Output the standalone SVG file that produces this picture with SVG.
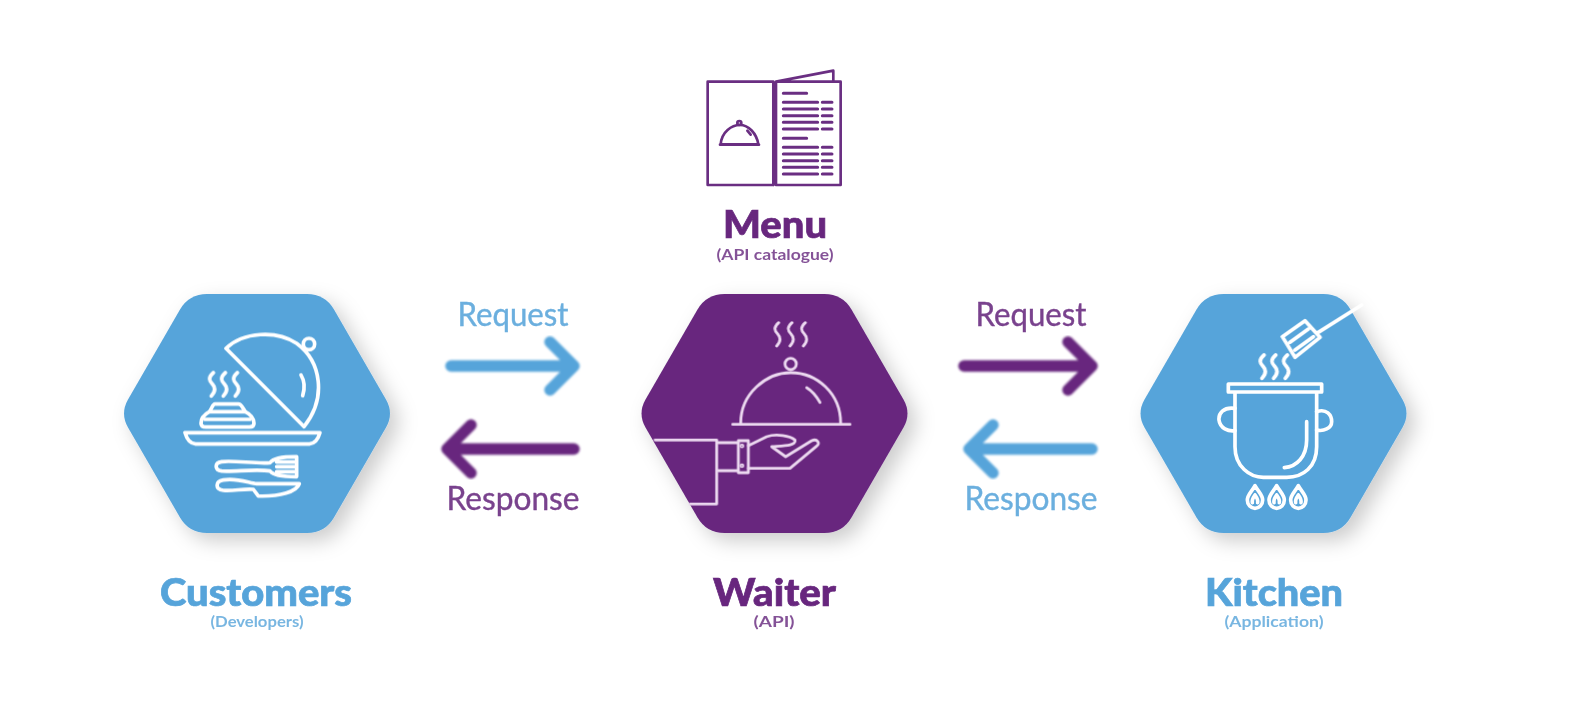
<svg xmlns="http://www.w3.org/2000/svg" width="1576" height="726" viewBox="0 0 1576 726">
<style>
.big{font-family:Lato,"Noto Sans",sans-serif;font-weight:900;font-size:37px;stroke-width:.7px}
.big.b{stroke:#57a4da}.big.p{stroke:#67287e}
.sub{font-family:Lato,"Noto Sans",sans-serif;font-weight:700;font-size:15px;opacity:.8}
.mid{font-family:Lato,"Noto Sans",sans-serif;font-weight:400;font-size:32px;opacity:.88;stroke-width:.4px}
.mid.b{stroke:#57a4da}.mid.p{stroke:#67287e}
.b{fill:#57a4da}.p{fill:#67287e}
.ico{fill:none;stroke-linecap:round;stroke-linejoin:round}
.w{stroke:#fff;stroke-width:11}
.l{stroke:#ecd9f0;stroke-width:8.5}
.m{stroke:#6a2f82;stroke-width:8}
.arr{fill:none;stroke-width:11.5;stroke-linecap:round;stroke-linejoin:round}
</style>
<defs>
<filter id="sh" x="-20%" y="-20%" width="145%" height="145%"><feDropShadow dx="8" dy="8" stdDeviation="10" flood-color="#000" flood-opacity=".2"/></filter>
<filter id="soft" x="-5%" y="-5%" width="110%" height="110%"><feGaussianBlur stdDeviation=".8"/></filter>
<filter id="softer" x="-5%" y="-5%" width="110%" height="110%"><feGaussianBlur stdDeviation=".55"/></filter>
<path id="hex" d="M-50,-119.5H50Q68,-119.5 77,-104L129,-14Q137,0 129,14L77,104Q68,119.5 50,119.5H-50Q-68,119.5 -77,104L-129,14Q-137,0 -129,-14L-77,-104Q-68,-119.5 -50,-119.5Z"/>
<path id="steam" d="M0,0c-16,14 -13,24 -3,34c10,11 10,22 -3,36"/>
</defs>
<rect width="1576" height="726" fill="#fff"/>

<g id="customers">
<use href="#hex" transform="translate(257,413.5)" class="b" filter="url(#sh)"/>
<g transform="translate(100,280) scale(.3333)" class="ico w" filter="url(#soft)">
<path d="M378,205C430,155 530,150 590,190C665,245 680,355 612,440Z"/>
<circle cx="627" cy="192" r="17"/>
<path d="M603,285C615,305 615,325 608,347"/>
<use href="#steam" x="340" y="278"/><use href="#steam" x="376" y="278"/><use href="#steam" x="412" y="278"/>
<path d="M345,372H415C425,372 428,385 436,395C450,402 462,415 462,430C462,438 455,441 448,441H318C308,441 303,438 303,430C303,415 315,402 328,395C336,385 338,372 345,372Z"/>
<path d="M330,395H435M315,418H450"/>
<path d="M255,458H660C655,476 645,491 628,492H287C270,491 260,476 255,458Z"/>
<path d="M365,545C400,540 470,552 510,548C520,535 540,530 590,530V590C540,590 520,585 510,573C470,566 400,576 365,573C343,570 343,548 365,545ZM530,546H590M530,560H590M530,575H590"/>
<path d="M370,600C410,592 450,610 470,611L598,611C590,635 540,650 475,648L460,628C430,625 400,634 370,631C345,627 345,605 370,600Z"/>
</g>
</g>

<g id="waiter">
<use href="#hex" transform="translate(774.5,413.5)" class="p" filter="url(#sh)"/>
<g transform="translate(620,280) scale(.3333)" class="ico l" filter="url(#soft)">
<use href="#steam" x="476" y="128"/><use href="#steam" x="516" y="128"/><use href="#steam" x="556" y="128"/>
<circle cx="512" cy="252" r="17"/>
<path d="M362,430C362,340 440,278 512,278C590,278 662,340 662,430M338,433H690"/>
<path d="M560,323C575,332 590,350 600,367"/>
<path d="M105,480H290V672H210M296,488H355V572H296M355,482H385V578H355"/>
<path d="M385,497L440,470C470,460 510,468 525,480C530,497 490,497 455,500L497,530L575,482C592,475 602,490 590,498L510,565H385"/>
<circle cx="366" cy="498" r="2.5"/><circle cx="366" cy="557" r="2.5"/>
</g>
</g>

<g id="kitchen">
<use href="#hex" transform="translate(1273.5,413.5)" class="b" filter="url(#sh)"/>
<g transform="translate(1120,280) scale(.3333)" class="ico w" filter="url(#soft)">
<path d="M487,170L555,122L600,172L525,232ZM510,187L565,147M525,210L580,170M590,160L725,75"/>
<use href="#steam" x="432" y="225"/><use href="#steam" x="467" y="225"/><use href="#steam" x="502" y="225"/>
<path d="M325,312H605V336H325ZM345,336V500C345,560 390,592 430,592H500C550,592 590,560 590,500V336"/>
<path d="M345,385C310,380 295,400 297,420C300,445 325,455 345,452M590,395C620,385 635,405 635,425C635,445 610,455 590,450"/>
<path d="M560,425V480C560,530 530,560 493,563"/>
<path d="M405,617C395,635 382,645 382,660C382,675 393,685 405,685C417,685 428,675 428,660C428,645 415,635 405,617ZM405,645C398,655 395,660 397,668M405,645C412,655 415,660 413,668"/>
<path d="M470,617C460,635 447,645 447,660C447,675 458,685 470,685C482,685 493,675 493,660C493,645 480,635 470,617ZM470,645C463,655 460,660 462,668M470,645C477,655 480,660 478,668"/>
<path d="M535,617C525,635 512,645 512,660C512,675 523,685 535,685C547,685 558,675 558,660C558,645 545,635 535,617ZM535,645C528,655 525,660 527,668M535,645C542,655 545,660 543,668"/>
</g>
</g>

<g id="menu">
<g transform="translate(690,60) scale(.3333)" class="ico m" filter="url(#soft)">
<path d="M53,65H250V375H53ZM258,65H452V375H258ZM258,65L430,32V65M250,375L255,368L258,375"/>
<path d="M92,253C95,215 125,195 150,195C175,195 200,220 205,253ZM90,254H207"/>
<circle cx="148" cy="189" r="6"/>
<path d="M172,212L182,224"/>
<path d="M280,100H350M280,235H350" stroke-width="9"/>
<path d="M280,127H383M397,127H426M280,147H383M397,147H426M280,167H383M397,167H426M280,187H383M397,187H426M280,207H383M397,207H426M280,262H383M397,262H426M280,282H383M397,282H426M280,302H383M397,302H426M280,322H383M397,322H426M280,342H383M397,342H426" stroke-width="9"/>
</g>
</g>

<g id="connectors" filter="url(#soft)">
<path class="arr" stroke="#57a4da" d="M451,366H574M550,342L574,366L550,390"/>
<path class="arr" stroke="#67287e" d="M574,449H447M471,425L447,449L471,473"/>
<path class="arr" stroke="#67287e" d="M964,366H1092M1068,342L1092,366L1068,390"/>
<path class="arr" stroke="#57a4da" d="M1092,449H969M993,425L969,449L993,473"/>
</g>

<g id="labels" filter="url(#softer)">
<text class="mid b" x="513" y="326" text-anchor="middle" textLength="111" lengthAdjust="spacingAndGlyphs">Request</text>
<text class="mid p" x="513" y="510" text-anchor="middle" textLength="133" lengthAdjust="spacingAndGlyphs">Response</text>
<text class="mid p" x="1031" y="326" text-anchor="middle" textLength="111" lengthAdjust="spacingAndGlyphs">Request</text>
<text class="mid b" x="1031" y="510" text-anchor="middle" textLength="133" lengthAdjust="spacingAndGlyphs">Response</text>
<text class="big b" x="256" y="606" text-anchor="middle" textLength="192" lengthAdjust="spacingAndGlyphs">Customers</text>
<text class="sub b" x="257" y="627" text-anchor="middle" textLength="93" lengthAdjust="spacingAndGlyphs">(Developers)</text>
<text class="big p" x="774.5" y="606" text-anchor="middle" textLength="123" lengthAdjust="spacingAndGlyphs">Waiter</text>
<text class="sub p" x="774" y="627" text-anchor="middle" textLength="41" lengthAdjust="spacingAndGlyphs">(API)</text>
<text class="big b" x="1274" y="606" text-anchor="middle" textLength="138" lengthAdjust="spacingAndGlyphs">Kitchen</text>
<text class="sub b" x="1274" y="627" text-anchor="middle" textLength="99" lengthAdjust="spacingAndGlyphs">(Application)</text>
<text class="big p" x="775" y="238" text-anchor="middle" textLength="104" lengthAdjust="spacingAndGlyphs">Menu</text>
<text class="sub p" x="775" y="260" text-anchor="middle" textLength="117" lengthAdjust="spacingAndGlyphs">(API catalogue)</text>
</g>
</svg>
